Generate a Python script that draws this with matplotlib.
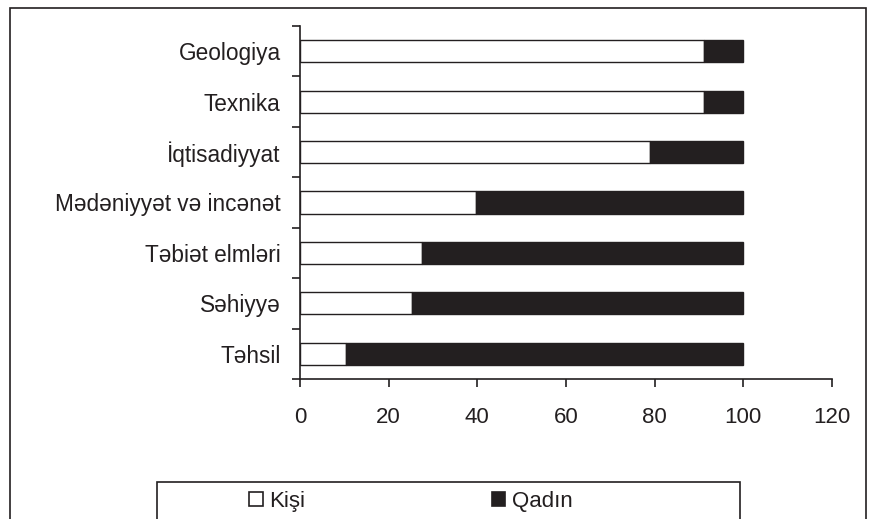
import matplotlib
matplotlib.use("Agg")
import matplotlib.pyplot as plt
from matplotlib.patches import Patch, Rectangle

categories = ["Geologiya", "Texnika", "İqtisadiyyat", "Mədəniyyət və incənət",
              "Təbiət elmləri", "Səhiyyə", "Təhsil"]
kisi = [91.2, 91.2, 78.9, 39.6, 27.5, 25.2, 10.4]
qadin = [100 - k for k in kisi]
xticks = [0, 20, 40, 60, 80, 100, 120]

plt.rcParams["font.family"] = ["Liberation Sans", "DejaVu Sans"]
dark = "#231f20"
fs = 16.3

fig = plt.figure(figsize=(8.76, 5.19), dpi=100)
ax = fig.add_axes([300 / 876, 1 - 379 / 519, 532 / 876, 353 / 519])

ypos = list(range(len(categories)))[::-1]
ax.barh(ypos, kisi, height=0.44, color="white", edgecolor=dark, linewidth=1)
ax.barh(ypos, qadin, left=kisi, height=0.44, color=dark, edgecolor=dark, linewidth=1)

ax.set_xlim(0, 120)
ax.set_ylim(-0.5, len(categories) - 0.5)
ax.set_xticks(xticks)
ax.set_xticklabels([str(t) for t in xticks], fontsize=16, color=dark)
ax.set_yticks([y + 0.5 for y in range(-1, len(categories))])
ax.set_yticklabels([])
ax.set_yticks(ypos, minor=True)
ax.set_yticklabels(categories, minor=True, fontsize=fs, color=dark)
ax.tick_params(axis="y", which="minor", length=0, pad=14)
ax.tick_params(axis="y", which="major", length=5.5, width=1.2, color=dark)
ax.tick_params(axis="x", length=6, width=1.2, color=dark, pad=14)
ax.spines["top"].set_visible(False)
ax.spines["right"].set_visible(False)
for s in ("left", "bottom"):
    ax.spines[s].set_linewidth(1.2)
    ax.spines[s].set_color(dark)

# outer border
fig.add_artist(Rectangle((10 / 876, -0.05), 856 / 876, 1.05 - 8 / 519,
                         transform=fig.transFigure, fill=False,
                         edgecolor=dark, linewidth=1.2))
# legend frame
fig.add_artist(Rectangle((157 / 876, -0.05), 583 / 876, 0.05 + 1 - 482 / 519,
                         transform=fig.transFigure, fill=False,
                         edgecolor=dark, linewidth=1.2))
handles = [Patch(facecolor="white", edgecolor=dark, linewidth=1.2, label="Kişi"),
           Patch(facecolor=dark, edgecolor=dark, linewidth=1.2, label="Qadın")]
fig.legend(handles=handles, loc="center", bbox_to_anchor=(411 / 876, 1 - 501 / 519),
           ncol=2, frameon=False, fontsize=16, handlelength=0.6, handleheight=0.6,
           handletextpad=0.3, columnspacing=8.4, labelcolor=dark)

fig.savefig("out.png", dpi=100)
